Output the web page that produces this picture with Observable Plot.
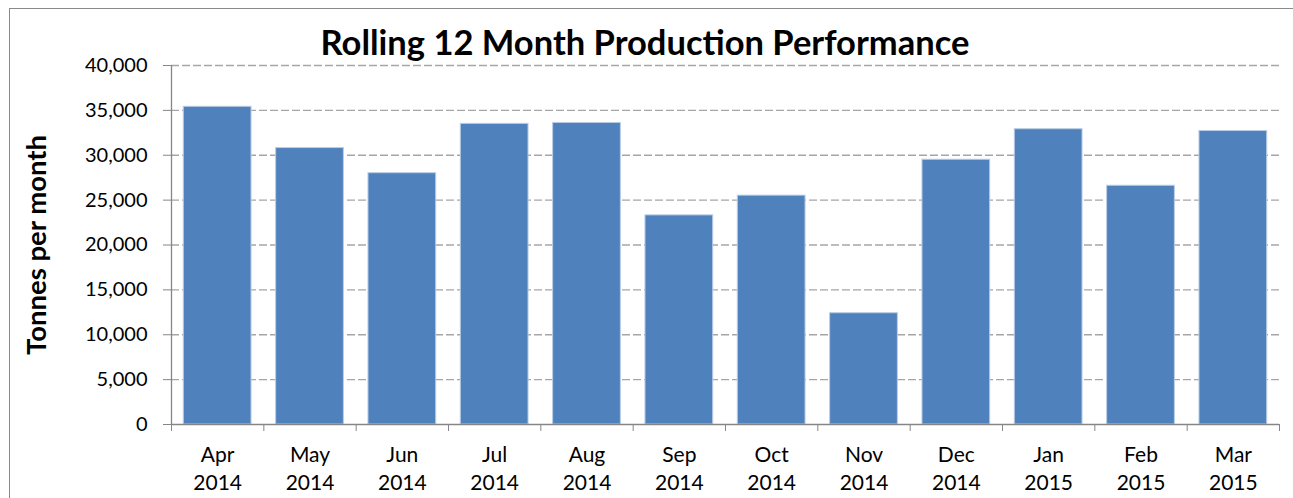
<!DOCTYPE html>
<html>
<head>
<meta charset="utf-8">
<script src="https://cdn.jsdelivr.net/npm/d3@7"></script>
<script src="https://cdn.jsdelivr.net/npm/@observablehq/plot@0.6"></script>
<style>
  html, body { margin: 0; padding: 0; background: #fff; overflow: hidden; }
  #wrap { position: relative; width: 1293px; height: 498px; overflow: hidden; font-family: Lato, "Open Sans", sans-serif; }
  #frame { position: absolute; left: 9px; top: 8px; width: 1300px; height: 520px; border: 1.5px solid #8a8a8a; box-sizing: border-box; }
  #title { position: absolute; left: 0; width: 1290px; top: 19px; text-align: center; font-weight: bold; font-size: 34.5px; color: #000; line-height: 46px; }
  #chart { position: absolute; left: 0; top: 0; }
  #chart svg { overflow: visible; }
  g[aria-label="y-axis label"] text { font-weight: bold; font-size: 27.5px; }
</style>
</head>
<body>
<div id="wrap">
  <div id="frame"></div>
  <div id="chart"></div>
  <div id="title">Rolling 12 Month Production Performance</div>
</div>
<script>
const months = ["Apr", "May", "Jun", "Jul", "Aug", "Sep", "Oct", "Nov", "Dec", "Jan", "Feb", "Mar"];
const years = ["2014", "2014", "2014", "2014", "2014", "2014", "2014", "2014", "2014", "2015", "2015", "2015"];
const tonnes = [35400, 30800, 28000, 33500, 33600, 23300, 25500, 12400, 29500, 32900, 26600, 32700];
const yTicks = [0, 5000, 10000, 15000, 20000, 25000, 30000, 35000, 40000];

const data = months.map((m, i) => ({i, label: m + "\n" + years[i], value: tonnes[i]}));
const boundaries = d3.range(months.length + 1);
const centers = data.map(d => d.i + 0.5);

const chart = Plot.plot({
  width: 1293,
  height: 498,
  marginTop: 65,
  marginBottom: 74,
  marginLeft: 171,
  marginRight: 14,
  style: {fontFamily: "Lato, 'Open Sans', sans-serif", fontSize: "20px", color: "#000", background: "transparent"},
  x: {type: "linear", domain: [0, months.length]},
  y: {domain: [0, 40000]},
  marks: [
    Plot.gridY(yTicks.filter(t => t > 0), {stroke: "#a6a6a6", strokeOpacity: 1, strokeWidth: 1.3, strokeDasharray: "8,3"}),
    Plot.rectY(data, {x1: d => d.i, x2: d => d.i + 1, y: "value", fill: "#4f81bd", stroke: "#b9cde5", strokeWidth: 1, insetLeft: 12.3, insetRight: 12.3}),
    Plot.ruleY([0], {stroke: "#868686", strokeWidth: 1.3}),
    Plot.ruleX([0], {stroke: "#868686", strokeWidth: 1.3}),
    Plot.axisY({ticks: yTicks, tickFormat: d3.format(","), tickSize: 8, tickPadding: 16, stroke: "#868686",
      label: "Tonnes per month", labelAnchor: "center", labelArrow: "none", labelOffset: 145, fontSize: 20}),
    Plot.axisX({ticks: boundaries, tickFormat: () => "", tickSize: 7, stroke: "#868686", label: null}),
    Plot.axisX({ticks: centers, tickSize: 0, tickPadding: 17, tickFormat: v => data[Math.floor(v)].label, lineHeight: 1.35, fontSize: 21, label: null})
  ]
});
document.getElementById("chart").appendChild(chart);
</script>
</body>
</html>
